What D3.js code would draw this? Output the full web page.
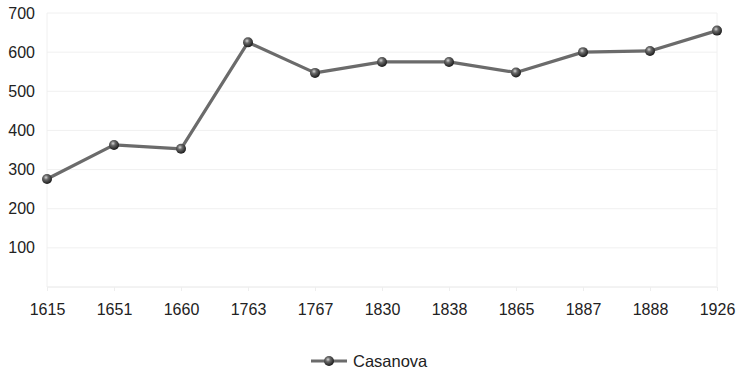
<!DOCTYPE html>
<html>
<head>
<meta charset="utf-8">
<script src="https://cdn.jsdelivr.net/npm/d3@7/dist/d3.min.js"></script>
<style>
  body { margin: 0; background: #fff; }
  svg { display: block; font-family: "Liberation Sans", Arial, sans-serif; }
</style>
</head>
<body>
<svg id="chart" width="737" height="369"></svg>
<script>
const years = ["1615", "1651", "1660", "1763", "1767", "1830", "1838", "1865", "1887", "1888", "1926"];
const casanova = [276, 363, 353, 625, 547, 575, 575, 548, 600, 603, 655];
const yTicks = [100, 200, 300, 400, 500, 600, 700];
const seriesName = "Casanova";

const svg = d3.select("#chart");
const margin = { left: 47, right: 20, top: 13, bottom: 82 };
const W = 737, H = 369;

const x = d3.scalePoint().domain(years).range([margin.left, W - margin.right]);
const y = d3.scaleLinear().domain([0, 700]).range([H - margin.bottom, margin.top]);

// sphere-like marker shading
const defs = svg.append("defs");
const grad = defs.append("radialGradient").attr("id", "ball")
  .attr("cx", "40%").attr("cy", "35%").attr("r", "65%");
grad.append("stop").attr("offset", "0%").attr("stop-color", "#d8d8d8");
grad.append("stop").attr("offset", "35%").attr("stop-color", "#6a6a6a");
grad.append("stop").attr("offset", "100%").attr("stop-color", "#1a1a1a");

// horizontal grid lines
svg.append("g").selectAll("line").data([0].concat(yTicks)).join("line")
  .attr("x1", margin.left).attr("x2", W - margin.right)
  .attr("y1", d => y(d)).attr("y2", d => y(d))
  .attr("stroke", d => d === 0 ? "#e6e6e6" : "#f0f0f0").attr("stroke-width", 1);

// plot frame sides
svg.append("g").selectAll("line").data([margin.left, W - margin.right]).join("line")
  .attr("x1", d => d).attr("x2", d => d)
  .attr("y1", y(700)).attr("y2", y(0))
  .attr("stroke", "#f0f0f0");

// y axis labels
const yAxis = d3.axisLeft(y).tickValues(yTicks).tickSize(0).tickPadding(12);
svg.append("g").attr("transform", `translate(${margin.left},0)`).call(yAxis)
  .call(g => g.select(".domain").remove())
  .call(g => g.selectAll("text").attr("font-size", 16).attr("fill", "#222")
    .attr("font-family", '"Liberation Sans", Arial, sans-serif'));

// x axis labels with faint ticks
const xAxis = d3.axisBottom(x).tickSize(4).tickPadding(13);
svg.append("g").attr("transform", `translate(0,${y(0)})`).call(xAxis)
  .call(g => g.select(".domain").remove())
  .call(g => g.selectAll(".tick line").attr("stroke", "#eeeeee"))
  .call(g => g.selectAll("text").attr("font-size", 16).attr("fill", "#222")
    .attr("font-family", '"Liberation Sans", Arial, sans-serif'));

// series line
const line = d3.line().x((d, i) => x(years[i])).y(d => y(d));
svg.append("path").datum(casanova)
  .attr("d", line).attr("fill", "none")
  .attr("stroke", "#6b6b6b").attr("stroke-width", 3.2)
  .attr("stroke-linejoin", "round");

// markers
svg.append("g").selectAll("circle").data(casanova).join("circle")
  .attr("cx", (d, i) => x(years[i])).attr("cy", d => y(d))
  .attr("r", 5).attr("fill", "url(#ball)");

// legend
const lg = svg.append("g").attr("transform", "translate(311,361)");
lg.append("line").attr("x1", 0).attr("x2", 36).attr("y1", 0).attr("y2", 0)
  .attr("stroke", "#6b6b6b").attr("stroke-width", 3.2);
lg.append("circle").attr("cx", 18).attr("cy", 0).attr("r", 5).attr("fill", "url(#ball)");
lg.append("text").attr("x", 42).attr("y", 6).attr("font-size", 16.5).attr("fill", "#222")
  .text(seriesName);
</script>
</body>
</html>
